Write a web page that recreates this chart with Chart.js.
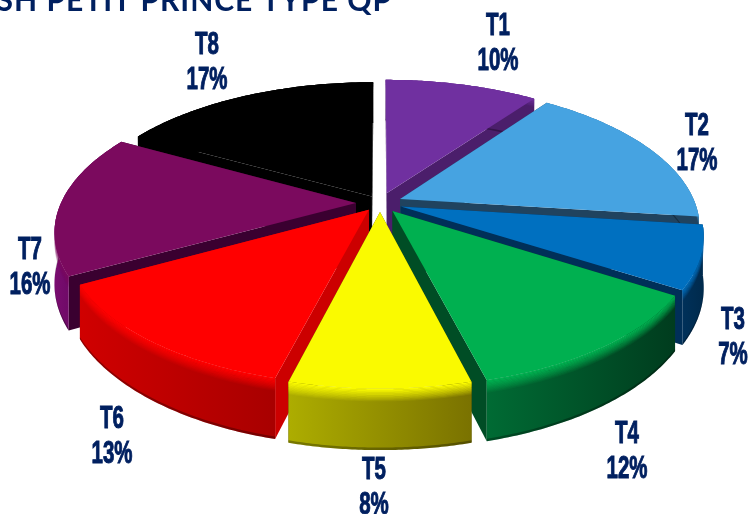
<!DOCTYPE html>
<html>
<head>
<meta charset="utf-8">
<style>
  html, body { margin: 0; padding: 0; background: #fff; overflow: hidden; }
  #wrap { width: 750px; height: 514px; }
</style>
<script src="https://cdn.jsdelivr.net/npm/chart.js@4"></script>
</head>
<body>
<div id="wrap"><canvas id="pie"></canvas></div>
<script>
var titleText = 'WALSH PETIT PRINCE TYPE QP';
var categories = ['T1', 'T2', 'T3', 'T4', 'T5', 'T6', 'T7', 'T8'];
var shares = [10, 17, 7, 12, 8, 13, 16, 17];
var explode = [22, 22, 22, 21, 19, 18, 24, 16];

// top face, cut side, outer wall left and right
var topColors = ['#7030a0', '#46a3e1', '#0070c0', '#00b050', '#fafa00', '#ff0000', '#7b0a5e', '#000000'];
var sideColors = ['#4b1e6b', '#20435f', '#002f58', '#004d25', '#4a4a00', '#cc0000', '#3a0030', '#000000'];
var wallLeft = ['#4b1e6b', '#20435f', '#00315a', '#006b34', '#adad00', '#d00000', '#7a0c70', '#000000'];
var wallRight = ['#4b1e6b', '#20435f', '#002a4c', '#003c1e', '#7a7200', '#a80000', '#4a0048', '#000000'];

var labelSpots = [[498, 41], [697, 141], [733, 335], [627, 449], [374, 485], [112, 434], [30, 265], [207, 60]];

// view of the tilted pie
var view = { cx: 380, cy: 203, radius: 295, tilt: 0.47, depth: 1536, height: 49, bevel: 10 };

function project(x, y, z) {
  var s = 1 / (1 + y / view.depth);
  return { x: view.cx + x * s, y: view.cy - (view.tilt * y + z) * s };
}

function polygon(ctx, pts, color) {
  ctx.beginPath();
  ctx.moveTo(pts[0].x, pts[0].y);
  for (var i = 1; i < pts.length; i++) {
    ctx.lineTo(pts[i].x, pts[i].y);
  }
  ctx.closePath();
  ctx.fillStyle = color;
  ctx.fill();
}

function drawSlice(ctx, arc, i) {
  var r = view.radius;
  var mid = (arc.startAngle + arc.endAngle) / 2;
  var ox = Math.cos(mid) * arc.options.offset;
  var oy = -Math.sin(mid) * arc.options.offset;
  var h = view.height;
  var steps = 60;

  function rim(a, z) {
    return project(ox + r * Math.cos(a), oy - r * Math.sin(a), z);
  }

  // one band of the outer wall, between two heights
  function band(z0, z1, color) {
    var pts = [];
    var n;
    for (n = 0; n <= steps; n++) {
      pts.push(rim(arc.startAngle + (arc.endAngle - arc.startAngle) * n / steps, z0));
    }
    for (n = steps; n >= 0; n--) {
      pts.push(rim(arc.startAngle + (arc.endAngle - arc.startAngle) * n / steps, z1));
    }
    polygon(ctx, pts, color);
  }

  // cut sides
  var inTop = project(ox, oy, 0);
  var inLow = project(ox, oy, -h);
  polygon(ctx, [inTop, rim(arc.startAngle, 0), rim(arc.startAngle, -h), inLow], sideColors[i]);
  polygon(ctx, [inTop, rim(arc.endAngle, 0), rim(arc.endAngle, -h), inLow], sideColors[i]);

  // outer wall, shaded left to right
  var xs = [];
  for (var m = 0; m <= steps; m++) {
    xs.push(rim(arc.startAngle + (arc.endAngle - arc.startAngle) * m / steps, 0).x);
  }
  var grad = ctx.createLinearGradient(Math.min.apply(null, xs), 0, Math.max.apply(null, xs), 0);
  grad.addColorStop(0, wallLeft[i]);
  grad.addColorStop(1, wallRight[i]);
  band(0, -h, grad);

  // soft bevel on top of the wall, dark line at its foot
  ctx.save();
  ctx.fillStyle = topColors[i];
  for (var b = 0; b < view.bevel; b++) {
    ctx.globalAlpha = 1 - b / view.bevel;
    band(-b, -b - 1.2, topColors[i]);
  }
  ctx.globalAlpha = 0.3;
  band(-h + 2, -h, '#000000');
  ctx.restore();

  // top face
  var face = [inTop];
  for (var f = 0; f <= steps; f++) {
    face.push(rim(arc.startAngle + (arc.endAngle - arc.startAngle) * f / steps, 0));
  }
  polygon(ctx, face, topColors[i]);
}

function narrowText(ctx, text, x, y, squeeze) {
  ctx.save();
  ctx.translate(x, y);
  ctx.scale(squeeze, 1);
  ctx.fillText(text, 0, 0);
  ctx.strokeText(text, 0, 0);
  ctx.restore();
}

var tiltedPie = {
  id: 'tiltedPie',
  beforeDatasetsDraw: function (chart) {
    var ctx = chart.ctx;
    var arcs = chart.getDatasetMeta(0).data;
    var order = arcs.map(function (arc, i) {
      return i;
    });
    // far slices first
    order.sort(function (a, b) {
      var ma = (arcs[a].startAngle + arcs[a].endAngle) / 2;
      var mb = (arcs[b].startAngle + arcs[b].endAngle) / 2;
      return Math.sin(ma) - Math.sin(mb);
    });
    ctx.save();
    order.forEach(function (i) {
      drawSlice(ctx, arcs[i], i);
    });
    ctx.restore();
    return false;
  },
  afterDraw: function (chart) {
    var ctx = chart.ctx;
    ctx.save();
    ctx.fillStyle = '#002060';
    ctx.strokeStyle = '#002060';
    ctx.lineWidth = 1;
    ctx.textAlign = 'center';
    ctx.textBaseline = 'alphabetic';
    ctx.font = 'bold 31px "Liberation Sans"';
    categories.forEach(function (name, i) {
      narrowText(ctx, name, labelSpots[i][0], labelSpots[i][1] - 6, 0.66);
      narrowText(ctx, shares[i] + '%', labelSpots[i][0], labelSpots[i][1] + 29, 0.66);
    });
    ctx.textAlign = 'right';
    ctx.font = 'bold 30px Lato';
    ctx.letterSpacing = '1px';
    ctx.fillText(titleText, 392, 11);
    ctx.restore();
  }
};

new Chart(document.getElementById('pie'), {
  type: 'pie',
  data: {
    labels: categories,
    datasets: [{
      data: shares,
      backgroundColor: topColors,
      borderWidth: 0,
      offset: explode
    }]
  },
  options: {
    responsive: true,
    maintainAspectRatio: false,
    animation: false,
    plugins: {
      legend: { display: false },
      tooltip: { enabled: false },
      title: { display: false }
    }
  },
  plugins: [tiltedPie]
});
</script>
</body>
</html>
